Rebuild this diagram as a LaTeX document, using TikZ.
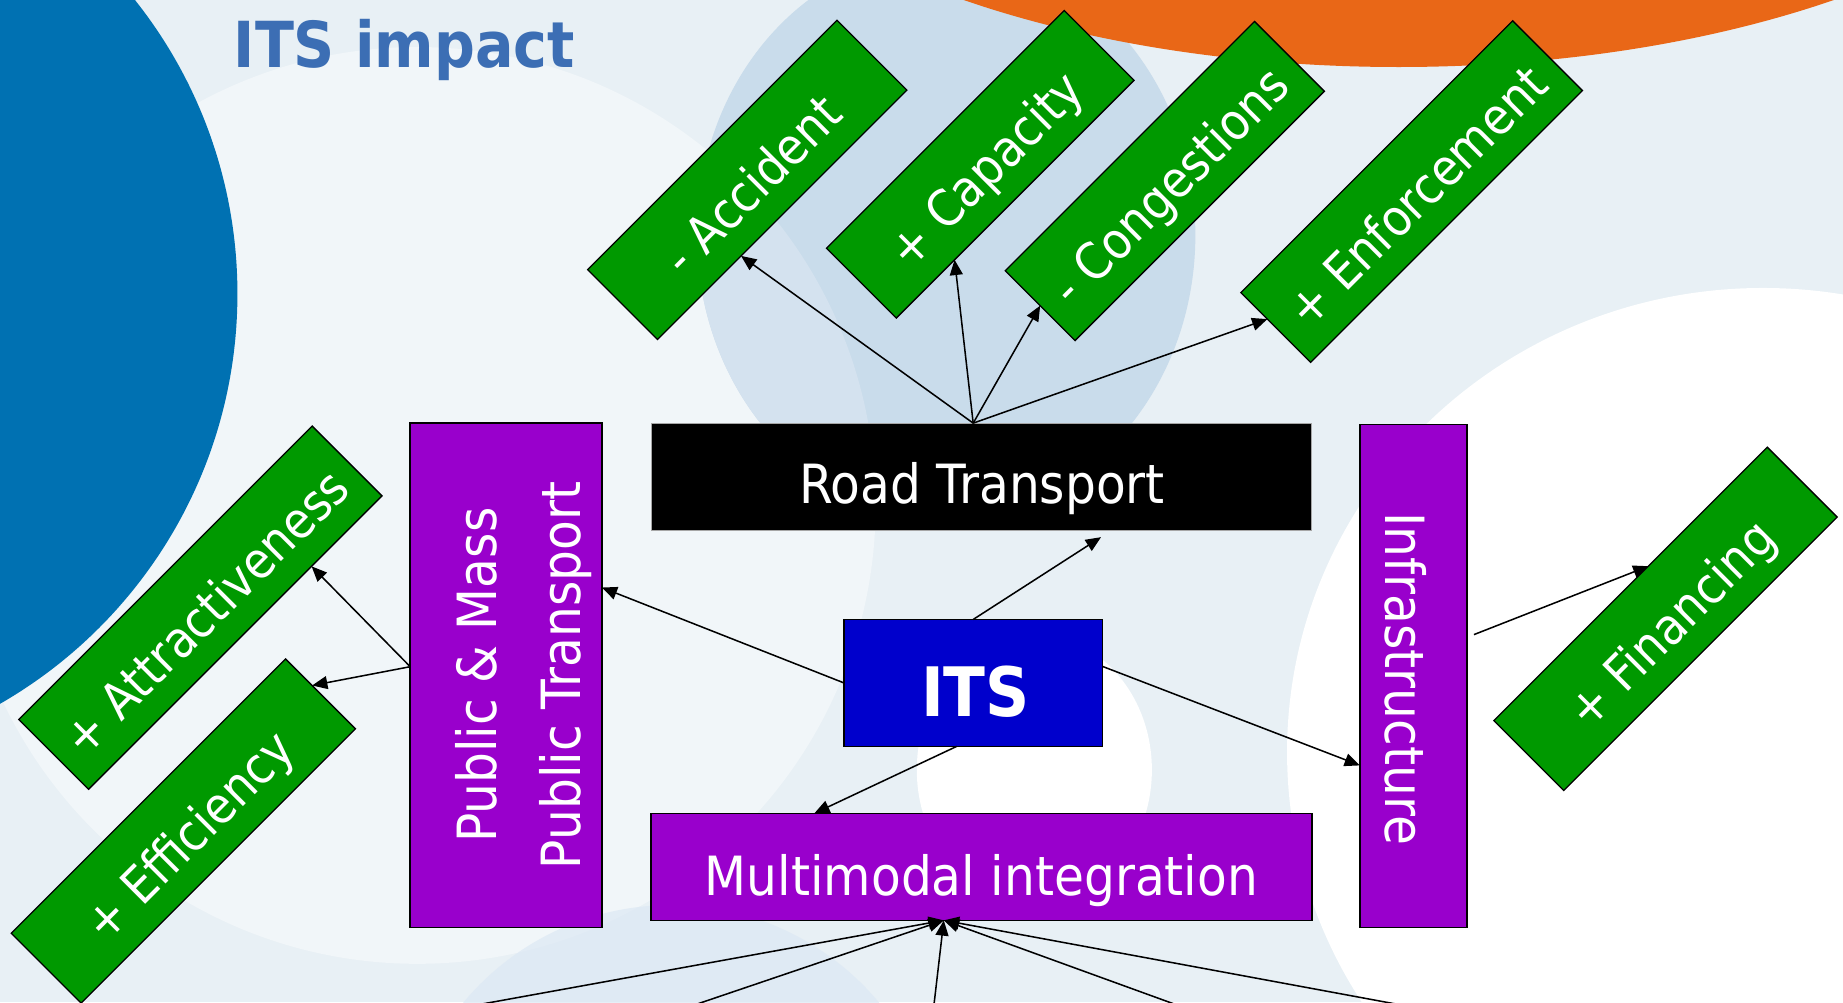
\documentclass[tikz,border=0pt]{standalone}
\usepackage{fontspec}
\setmainfont{DejaVu Sans}
\newfontfamily\tah[FakeStretch=0.9]{DejaVu Sans}
\usetikzlibrary{arrows.meta,calc}
\definecolor{bgbase}{HTML}{E8F0F5}
\definecolor{bglight}{HTML}{F1F6F9}
\definecolor{bgdark}{HTML}{C9DCEB}
\definecolor{bgmid}{HTML}{D4E2EF}
\definecolor{bgbot}{HTML}{DCE8F4}
\definecolor{bigblue}{HTML}{0071B2}
\definecolor{orng}{HTML}{E96717}
\definecolor{titleblue}{HTML}{3C6EB4}
\definecolor{grn}{HTML}{009900}
\definecolor{purp}{HTML}{9900CC}
\definecolor{itsblue}{HTML}{0000CC}
\tikzset{
  rbox/.style={draw=black, line width=1.3pt, inner sep=0pt, outer sep=0pt},
  gbox/.style={draw=black, line width=1.1pt, fill=grn, rotate=45, minimum height=84pt,
    text=white, inner sep=0pt, outer sep=0pt, font=\tah\fontsize{43}{43}\selectfont,
    text height=43pt, text depth=0pt},
  boxtext/.style={text=white, inner sep=0pt, font=\tah\fontsize{46}{71}\selectfont},
  arr/.style={line width=1.3pt, -{Triangle[length=13pt,width=11pt]}}
}
\begin{document}
\begin{tikzpicture}[x=1pt,y=-1pt]
\useasboundingbox (0,0) rectangle (1568,852.5);
\clip (0,0) rectangle (1568,852.5);
% background
\fill[bgbase] (0,0) rectangle (1568,852.5);
\fill[bglight] (355,430) circle[radius=390pt];
\fill[bgdark] (805,200) ellipse[x radius=212pt, y radius=240pt];
\begin{scope}
  \clip (805,200) ellipse[x radius=212pt, y radius=240pt];
  \fill[bgmid] (355,430) circle[radius=390pt];
\end{scope}
\fill[bgbot, opacity=0.7] (571,1000) circle[radius=230pt];
\fill[white] (1500,640) ellipse[x radius=405pt, y radius=395pt];
\fill[white] (880,655) ellipse[x radius=100pt, y radius=115pt];
\fill[bigblue] (-200,250) circle[radius=402pt];
\fill[orng] (1190,-243) ellipse[x radius=631pt, y radius=300pt];
% title
\node[anchor=base west, inner sep=0pt, text=titleblue, font=\tah\bfseries\fontsize{54}{54}\selectfont] (title) at (198.7,57.6) {ITS impact};
% main boxes
\node[rbox, draw=gray!70, line width=1pt, fill=black, minimum width=562pt, minimum height=91pt] (rt) at (835,405.5) {};
\node[boxtext, anchor=base] (rtlabel) at (835.5,428.5) {Road Transport};
\node[rbox, fill=itsblue, minimum width=220pt, minimum height=108pt] (its) at (828,581) {};
\node[anchor=base, inner sep=0pt, text=white, font=\tah\bfseries\fontsize{58}{58}\selectfont] (itslabel) at (830,609.7) {ITS};
\node[rbox, fill=purp, minimum width=163pt, minimum height=429pt] (pub) at (430.5,574.5) {};
\node[boxtext, rotate=90, align=center] (publabel) at (445.5,574.5) {Public \& Mass\\Public Transport};
\node[rbox, fill=purp, minimum width=562pt, minimum height=91pt] (mm) at (835,737.5) {};
\node[boxtext, anchor=base] (mmlabel) at (835,762) {Multimodal integration};
\node[rbox, fill=purp, minimum width=91pt, minimum height=428pt] (inf) at (1202.5,575) {};
\node[boxtext, rotate=-90] (inflabel) at (1195.5,577.5) {Infrastructure};
% green boxes
\node[gbox, minimum width=300pt] (acc) at (635.75,153) {- Accident};
\node[gbox, minimum width=286pt] (cap) at (834,139.75) {+ Capacity};
\node[gbox, minimum width=300pt] (cong) at (991,154) {- Congestions};
\node[gbox, minimum width=327pt] (enf) at (1201,163) {+ Enforcement};
\node[gbox, minimum width=353pt] (att) at (170.5,517) {+ Attractiveness};
\node[gbox, minimum width=330pt] (eff) at (156,707) {+ Efficiency};
\node[gbox, minimum width=329pt] (fin) at (1417,526.5) {+ Financing};
% connectors
\coordinate (rtTop) at ($(rt.north west)!0.4875!(rt.north east)$);
\draw[arr] (rtTop) -- ($(acc.south)!0.33!(acc.south west)$);
\draw[arr] (rtTop) -- ($(cap.south)!0.51!(cap.south west)$);
\draw[arr] (rtTop) -- (cong.west);
\draw[arr] (rtTop) -- ($(enf.west)!0.24!(enf.north west)$);
\draw[arr] (its.north) -- ($(rt.south west)!0.681!(rt.south east)+(0,6)$);
\draw[arr] (its.west) -- ($(pub.north east)!0.326!(pub.south east)$);
\draw[arr] ($(its.north east)!0.37!(its.south east)$) -- ($(inf.north west)!0.678!(inf.south west)$);
\draw[arr] ($(its.south west)!0.436!(its.south east)$) -- ($(mm.north west)!0.247!(mm.north east)$);
\coordinate (pubL) at ($(pub.north west)!0.483!(pub.south west)$);
\draw[arr] (pubL) -- ($(att.south)!0.52!(att.south east)$);
\draw[arr] (pubL) -- ($(eff.east)!0.24!(eff.north east)$);
\draw[arr] ($(inf.north east)!0.418!(inf.south east)+(6,0)$) -- ($(fin.north)!0.13!(fin.north east)$);
\coordinate (mmB) at ($(mm.south west)!0.443!(mm.south east)$);
\coordinate (b1) at (378,860);
\coordinate (b2) at (576,860);
\coordinate (b3) at (794,860);
\coordinate (b4) at (1015,860);
\coordinate (b5) at (1219,860);
\foreach \p in {b1,b2,b3,b4,b5} \draw[arr] (\p) -- (mmB);
\end{tikzpicture}
\end{document}
